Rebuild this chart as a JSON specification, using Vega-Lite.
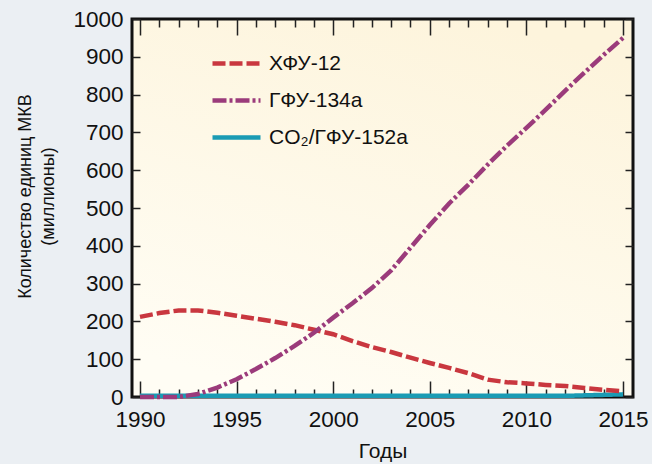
{
  "$schema": "https://vega.github.io/schema/vega-lite/v6.json",
  "width": 501,
  "height": 378,
  "autosize": {"type": "none"},
  "padding": {"left": 132, "top": 19, "right": 19, "bottom": 67},
  "background": "#ebeff3",
  "view": {
    "stroke": "#111111",
    "strokeWidth": 3,
    "fill": {"gradient": "linear", "x1": 0.3, "y1": 1, "x2": 0.7, "y2": 0, "stops": [{"offset": 0, "color": "#fffdf4"}, {"offset": 1, "color": "#fdf4dc"}]}
  },
  "config": {
    "font": "Liberation Sans",
    "axis": {"domain": false, "grid": false, "tickColor": "#222222", "tickWidth": 1.5, "labelColor": "#111111", "titleColor": "#111111", "titleFontWeight": "normal"},
    "legend": {"padding": 0}
  },
  "data": {
    "values": [
      {"year": 1990, "series": "CO₂/ГФУ-152a", "value": 3},
      {"year": 1995, "series": "CO₂/ГФУ-152a", "value": 3},
      {"year": 2000, "series": "CO₂/ГФУ-152a", "value": 3},
      {"year": 2005, "series": "CO₂/ГФУ-152a", "value": 3},
      {"year": 2010, "series": "CO₂/ГФУ-152a", "value": 3},
      {"year": 2012, "series": "CO₂/ГФУ-152a", "value": 3},
      {"year": 2015, "series": "CO₂/ГФУ-152a", "value": 7},
      {"year": 1990, "series": "ХФУ-12", "value": 212},
      {"year": 1991, "series": "ХФУ-12", "value": 222},
      {"year": 1992, "series": "ХФУ-12", "value": 229},
      {"year": 1993, "series": "ХФУ-12", "value": 229},
      {"year": 1994, "series": "ХФУ-12", "value": 223},
      {"year": 1995, "series": "ХФУ-12", "value": 215},
      {"year": 1996, "series": "ХФУ-12", "value": 207},
      {"year": 1997, "series": "ХФУ-12", "value": 199},
      {"year": 1998, "series": "ХФУ-12", "value": 190},
      {"year": 1999, "series": "ХФУ-12", "value": 178},
      {"year": 2000, "series": "ХФУ-12", "value": 166},
      {"year": 2001, "series": "ХФУ-12", "value": 148},
      {"year": 2002, "series": "ХФУ-12", "value": 132},
      {"year": 2003, "series": "ХФУ-12", "value": 119},
      {"year": 2004, "series": "ХФУ-12", "value": 104},
      {"year": 2005, "series": "ХФУ-12", "value": 90},
      {"year": 2006, "series": "ХФУ-12", "value": 77},
      {"year": 2007, "series": "ХФУ-12", "value": 63},
      {"year": 2008, "series": "ХФУ-12", "value": 46},
      {"year": 2009, "series": "ХФУ-12", "value": 39},
      {"year": 2010, "series": "ХФУ-12", "value": 36},
      {"year": 2011, "series": "ХФУ-12", "value": 32},
      {"year": 2012, "series": "ХФУ-12", "value": 29},
      {"year": 2013, "series": "ХФУ-12", "value": 24},
      {"year": 2014, "series": "ХФУ-12", "value": 19},
      {"year": 2015, "series": "ХФУ-12", "value": 15},
      {"year": 1990, "series": "ГФУ-134a", "value": 0},
      {"year": 1991, "series": "ГФУ-134a", "value": 0},
      {"year": 1992, "series": "ГФУ-134a", "value": 0},
      {"year": 1993, "series": "ГФУ-134a", "value": 8},
      {"year": 1994, "series": "ГФУ-134a", "value": 25},
      {"year": 1995, "series": "ГФУ-134a", "value": 47},
      {"year": 1996, "series": "ГФУ-134a", "value": 74},
      {"year": 1997, "series": "ГФУ-134a", "value": 103},
      {"year": 1998, "series": "ГФУ-134a", "value": 135},
      {"year": 1999, "series": "ГФУ-134a", "value": 170},
      {"year": 2000, "series": "ГФУ-134a", "value": 210},
      {"year": 2001, "series": "ГФУ-134a", "value": 248},
      {"year": 2002, "series": "ГФУ-134a", "value": 288},
      {"year": 2003, "series": "ГФУ-134a", "value": 335},
      {"year": 2004, "series": "ГФУ-134a", "value": 395},
      {"year": 2005, "series": "ГФУ-134a", "value": 455},
      {"year": 2006, "series": "ГФУ-134a", "value": 512},
      {"year": 2007, "series": "ГФУ-134a", "value": 562},
      {"year": 2008, "series": "ГФУ-134a", "value": 615},
      {"year": 2009, "series": "ГФУ-134a", "value": 665},
      {"year": 2010, "series": "ГФУ-134a", "value": 712},
      {"year": 2011, "series": "ГФУ-134a", "value": 760},
      {"year": 2012, "series": "ГФУ-134a", "value": 810},
      {"year": 2013, "series": "ГФУ-134a", "value": 858},
      {"year": 2014, "series": "ГФУ-134a", "value": 905},
      {"year": 2015, "series": "ГФУ-134a", "value": 950}
    ]
  },
  "resolve": {"axis": {"x": "independent", "y": "independent"}},
  "layer": [
    {
      "mark": {"type": "line", "strokeWidth": 4.5, "clip": false},
      "encoding": {
        "x": {
          "field": "year", "type": "quantitative",
          "scale": {"domain": [1989.586, 2015.518], "nice": false, "zero": false},
          "axis": {
            "orient": "bottom",
            "values": [1990,1991,1992,1993,1994,1995,1996,1997,1998,1999,2000,2001,2002,2003,2004,2005,2006,2007,2008,2009,2010,2011,2012,2013,2014,2015],
            "tickSize": {"condition": {"test": "datum.value % 5 === 0", "value": -16}, "value": -8},
            "labelExpr": "datum.value % 5 === 0 ? datum.value + '' : ''",
            "labelFontSize": 22.5,
            "labelPadding": 29,
            "labelBaseline": "line-top",
            "labelLineHeight": 18,
            "labelFlush": false,
            "labelOverlap": false,
            "title": "Годы",
            "titleFontSize": 21,
            "titleBaseline": "alphabetic",
            "titleY": 60
          }
        },
        "y": {
          "field": "value", "type": "quantitative",
          "scale": {"domain": [0, 1000], "nice": false},
          "axis": {
            "orient": "left",
            "values": [0,100,200,300,400,500,600,700,800,900,1000],
            "format": "d",
            "tickSize": -8,
            "labelFontSize": 22.5,
            "labelPadding": 17,
            "labelFlush": false,
            "labelOverlap": false,
            "title": ["Количество единиц МКВ", "(миллионы)"],
            "titleFontSize": 18,
            "titleLineHeight": 23,
            "titleBaseline": "alphabetic",
            "titleAngle": -90,
            "titleX": -102,
            "titleY": 177
          }
        },
        "color": {
          "field": "series", "type": "nominal",
          "scale": {"domain": ["ХФУ-12", "ГФУ-134a", "CO₂/ГФУ-152a"], "range": ["#c9373f", "#9b3b7b", "#1a9bb4"]},
          "legend": {
            "orient": "none", "legendX": 78, "legendY": 18, "title": null,
            "symbolType": "stroke", "symbolSize": 2304, "symbolStrokeWidth": 4.5,
            "labelFontSize": 21, "labelOffset": 6, "rowPadding": -17, "labelColor": "#111111"
          }
        },
        "strokeDash": {
          "field": "series", "type": "nominal",
          "scale": {"domain": ["ХФУ-12", "ГФУ-134a", "CO₂/ГФУ-152a"], "range": [[13, 4], [14, 3, 3, 3], [1, 0]]},
          "legend": {
            "orient": "none", "legendX": 78, "legendY": 18, "title": null,
            "symbolType": "stroke", "symbolSize": 2304, "symbolStrokeWidth": 4.5,
            "labelFontSize": 21, "labelOffset": 6, "rowPadding": -17, "labelColor": "#111111"
          }
        },
        "order": {"field": "year", "type": "quantitative"}
      }
    },
    {
      "mark": {"type": "line", "strokeOpacity": 0},
      "encoding": {
        "x": {
          "field": "year", "type": "quantitative",
          "axis": {
            "orient": "top",
            "values": [1990,1991,1992,1993,1994,1995,1996,1997,1998,1999,2000,2001,2002,2003,2004,2005,2006,2007,2008,2009,2010,2011,2012,2013,2014,2015],
            "tickSize": {"condition": {"test": "datum.value % 5 === 0", "value": -16}, "value": -8},
            "labels": false,
            "title": null
          }
        },
        "y": {
          "field": "value", "type": "quantitative",
          "axis": {
            "orient": "right",
            "values": [0,100,200,300,400,500,600,700,800,900,1000],
            "tickSize": -8,
            "labels": false,
            "title": null
          }
        },
        "detail": {"field": "series", "type": "nominal"}
      }
    }
  ]
}
